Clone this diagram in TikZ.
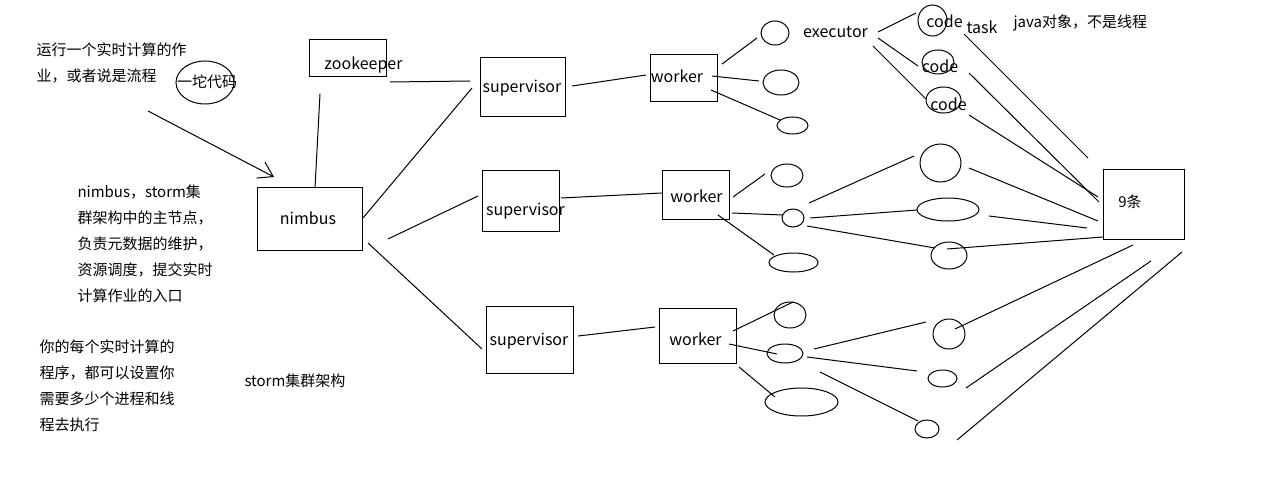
\documentclass[tikz,border=0pt]{standalone}
\usepackage{fontspec}
\setmainfont{Noto Sans CJK SC}
\usetikzlibrary{shapes.geometric,arrows.meta}

\tikzset{
  box/.style 2 args={draw, inner sep=0pt, minimum width=#1pt, minimum height=#2pt},
  blob/.style 2 args={draw, ellipse, inner sep=0pt, minimum width=#1pt, minimum height=#2pt},
  lab/.style={inner sep=0pt, anchor=base, font=\fontsize{16}{19}\selectfont},
  zh/.style={inner sep=0pt, font=\fontsize{15}{26}\selectfont},
  note/.style={zh, align=left, anchor=north west},
}

\begin{document}
\begin{tikzpicture}[x=1pt,y=-1pt,line width=1pt]
      \useasboundingbox (0,0) rectangle (1274,500);
      % boxes
      \node[box={77}{37}] (zk) at (347.5,58.5) {};
      \node[box={105}{63}] (nimbus) at (309.5,218.5) {};
      \node[box={85}{59}] (sup1) at (522.5,87.5) {};
      \node[box={77}{61}] (sup2) at (520.5,200.5) {};
      \node[box={87}{67}] (sup3) at (529.5,339.5) {};
      \node[box={67}{47}] (w1) at (683.5,78.5) {};
      \node[box={67}{49}] (w2) at (695.5,194.5) {};
      \node[box={77}{55}] (w3) at (697.5,335.5) {};
      \node[box={81}{70}] (nine) at (1143.5,204) {};
      % executors and tasks
      \node[blob={58}{43}] (lump) at (205,82.5) {};
      \node[blob={28}{24}] (e11) at (775,33) {};
      \node[blob={36}{25}] (e12) at (781,82.5) {};
      \node[blob={31}{17}] (e13) at (792.5,125.5) {};
      \node[blob={32}{23}] (e21) at (787,175.5) {};
      \node[blob={22}{18}] (e22) at (793,218) {};
      \node[blob={49}{19}] (e23) at (793.5,262.5) {};
      \node[blob={32}{26}] (e31) at (790,315) {};
      \node[blob={36}{19}] (e32) at (785,353.5) {};
      \node[blob={73}{28}] (e33) at (801.5,402) {};
      \node[blob={29}{31}] (c1) at (932.5,20.5) {};
      \node[blob={32}{24}] (c2) at (938,62) {};
      \node[blob={35}{26}] (c3) at (943.5,100) {};
      \node[blob={41}{38}] (t21) at (940.5,163) {};
      \node[blob={62}{23}] (t22) at (948,209.5) {};
      \node[blob={36}{27}] (t23) at (949,255.5) {};
      \node[blob={32}{30}] (t31) at (949,334) {};
      \node[blob={29}{17}] (t32) at (942.5,378.5) {};
      \node[blob={24}{18}] (t33) at (927,429) {};
      % texts
      \node[lab] (zkt) at (363.5,70) {zookeeper};
      \node[lab] (nimbust) at (308,224) {nimbus};
      \node[lab] (sup1t) at (522,93) {supervisor};
      \node[lab] (sup2t) at (525.5,215) {supervisor};
      \node[lab] (sup3t) at (529,345) {supervisor};
      \node[lab] (w1t) at (677,83) {worker};
      \node[lab] (w2t) at (696.5,202) {worker};
      \node[lab] (w3t) at (695.5,345) {worker};
      \node[lab] (exec) at (835.5,38) {executor};
      \node[lab] (code1) at (944.5,28) {code};
      \node[lab] (code2) at (940,73) {code};
      \node[lab] (code3) at (948.5,111) {code};
      \node[lab] (taskt) at (982,34) {task};
      \node[zh, anchor=base west] (java) at (1013,28) {java对象，不是线程};
      \node[zh, anchor=base] (ninet) at (1130,207) {9条};
      \node[zh, anchor=base] (lumpt) at (207,88) {一坨代码};
      \node[zh, anchor=base west] (title) at (244,386) {storm集群架构};
      \node[note] (job) at (36,42) {运行一个实时计算的作\\业，或者说是流程};
      \node[note] (nimbusnote) at (77,184) {nimbus，storm集\\群架构中的主节点，\\负责元数据的维护，\\资源调度，提交实时\\计算作业的入口};
      \node[note] (procnote) at (39,339) {你的每个实时计算的\\程序，都可以设置你\\需要多少个进程和线\\程去执行};
      % arrow to nimbus
      \coordinate (src) at (148,111);
      \draw[-{Straight Barb[length=14pt,width=18pt]}] (src) -- ([shift={(-35.5,-41.5)}]nimbus.center);
      % cluster lines
      \draw ([shift={(42.5,23.5)}]zk.center) -- ([shift={(-52.5,-6.5)}]sup1.center);
      \draw ([shift={(-27.5,35.5)}]zk.center) -- ([shift={(5.5,-30.5)}]nimbus.center);
      \draw ([shift={(53.5,-0.5)}]nimbus.center) -- ([shift={(-50.5,0.5)}]sup1.center);
      \draw ([shift={(78.5,20.5)}]nimbus.center) -- ([shift={(-42.5,-4.5)}]sup2.center);
      \draw ([shift={(58.5,24.5)}]nimbus.center) -- ([shift={(-47.5,9.5)}]sup3.center);
      \draw ([shift={(49.5,-1.5)}]sup1.center) -- ([shift={(-37.5,-3.5)}]w1.center);
      \draw ([shift={(40.5,-2.5)}]sup2.center) -- ([shift={(-33.5,-1.5)}]w2.center);
      \draw ([shift={(48.5,-3.5)}]sup3.center) -- ([shift={(-42.5,-8.5)}]w3.center);
      % workers to executors
      \draw ([shift={(38.5,-14.5)}]w1.center) -- ([shift={(-18,5)}]e11.center);
      \draw ([shift={(28.5,-2.5)}]w1.center) -- ([shift={(-22,-1.5)}]e12.center);
      \draw ([shift={(27.5,11.5)}]w1.center) -- ([shift={(-12.5,-5.5)}]e13.center);
      \draw ([shift={(37.5,2.5)}]w2.center) -- ([shift={(-22,-1.5)}]e21.center);
      \draw ([shift={(36.5,18.5)}]w2.center) -- ([shift={(-10,-3)}]e22.center);
      \draw ([shift={(22.5,20.5)}]w2.center) -- ([shift={(-19.5,-7.5)}]e23.center);
      \draw ([shift={(35.5,-4.5)}]w3.center) -- ([shift={(3,-13)}]e31.center);
      \draw ([shift={(31.5,8.5)}]w3.center) -- ([shift={(-8,0.5)}]e32.center);
      \draw ([shift={(41.5,31.5)}]w3.center) -- ([shift={(-26.5,-5)}]e33.center);
      % executors to tasks
      \draw ([shift={(42.5,-6)}]exec.base) -- ([shift={(-16.5,-7.5)}]c1.center);
      \draw ([shift={(42.5,0)}]exec.base) -- ([shift={(-20,4)}]c2.center);
      \draw ([shift={(37.5,8)}]exec.base) -- ([shift={(-17.5,-1)}]c3.center);
      \draw ([shift={(16,-15)}]e22.center) -- ([shift={(-26.5,-7)}]t21.center);
      \draw ([shift={(17,0)}]e22.center) -- ([shift={(-31,0.5)}]t22.center);
      \draw ([shift={(14,8)}]e22.center) -- ([shift={(-14,-7.5)}]t23.center);
      \draw ([shift={(29,-4.5)}]e32.center) -- ([shift={(-23,-12)}]t31.center);
      \draw ([shift={(22,3.5)}]e32.center) -- ([shift={(-25.5,-7.5)}]t32.center);
      \draw ([shift={(35,18.5)}]e32.center) -- ([shift={(-9,-8)}]t33.center);
      % tasks to the 9 box
      \draw ([shift={(31.5,13.5)}]c1.center) -- ([shift={(-55.5,-46)}]nine.center);
      \draw ([shift={(31,11)}]c2.center) -- ([shift={(-44.5,-2)}]nine.center);
      \draw ([shift={(25.5,15)}]c3.center) -- ([shift={(-45.5,-7)}]nine.center);
      \draw ([shift={(28.5,5)}]t21.center) -- ([shift={(-45.5,17)}]nine.center);
      \draw ([shift={(41,6.5)}]t22.center) -- ([shift={(-56.5,24)}]nine.center);
      \draw ([shift={(-2,-6.5)}]t23.center) -- ([shift={(-40.5,33)}]nine.center);
      \draw ([shift={(6,-5)}]t31.center) -- ([shift={(-10.5,41)}]nine.center);
      \draw ([shift={(23.5,9.5)}]t32.center) -- ([shift={(7.5,57)}]nine.center);
      \draw ([shift={(30,11)}]t33.center) -- ([shift={(38.5,48)}]nine.center);
\end{tikzpicture}
\end{document}
